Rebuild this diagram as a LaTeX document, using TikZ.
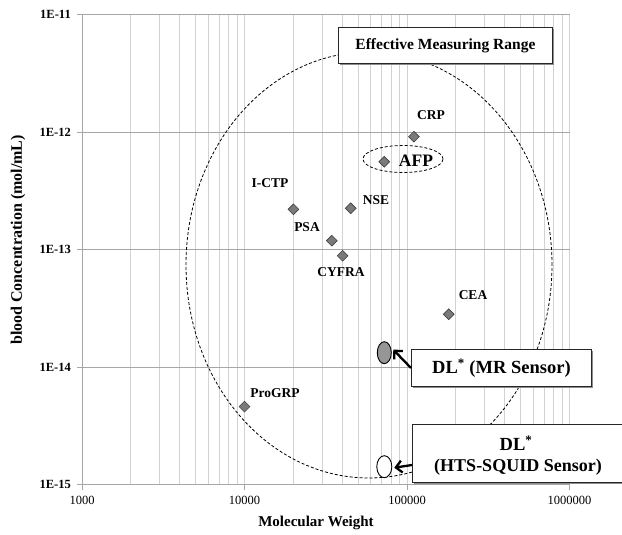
\documentclass[tikz,border=0pt]{standalone}
\usepackage{fontspec}
\setmainfont{Liberation Serif}
\usetikzlibrary{arrows.meta,shapes.geometric,shadows}
\definecolor{majgrid}{HTML}{A6A6A6}
\definecolor{mingrid}{HTML}{D2D2D2}
\definecolor{ptfill}{HTML}{7A7A7A}
\definecolor{ptdraw}{HTML}{404040}
\definecolor{mrfill}{HTML}{969696}
\newcommand{\fsz}[1]{\fontsize{#1}{#1}\selectfont}
\begin{document}
\begin{tikzpicture}[x=1pt,y=-1pt,
  vgrid/.style={mingrid,line width=0.9pt},
  hgrid/.style={majgrid,line width=0.9pt},
  axisline/.style={majgrid,line width=0.9pt},
  pt/.style={diamond,draw=ptdraw,fill=ptfill,line width=0.6pt,minimum width=11pt,minimum height=11pt,inner sep=0pt},
  ylab/.style={font=\fsz{12.5}\bfseries,anchor=east,inner sep=0pt},
  xlab/.style={font=\fsz{12.5},anchor=center,inner sep=0pt},
  dlab/.style={font=\fsz{13.5}\bfseries,inner sep=0pt},
  rangeline/.style={dash pattern=on 3pt off 2pt,line width=0.8pt},
  callout/.style={draw=black!85,fill=white,line width=0.9pt,inner sep=0pt,
    drop shadow={shadow xshift=1.2pt,shadow yshift=-1.2pt,fill=black!45,opacity=1}},
  bigarrow/.style={line width=2.3pt,-{Straight Barb[length=6pt,width=12pt]}}
]
\useasboundingbox (0,0) rectangle (622,535);
\begin{scope}[shift={(82,484.5)},x=162.5pt,y=117.5pt]
  \foreach \d in {0,1,2}{
    \foreach \k in {2,...,9}{
      \draw[vgrid] ({\d+log10(\k)},0) -- ({\d+log10(\k)},4);
    }
  }
  \foreach \d in {1,2,3} \draw[vgrid] (\d,0) -- (\d,4);
  \foreach \e in {1,2,3,4} \draw[hgrid] (0,\e) -- (3,\e);
  \draw[axisline] (0,4) -- (0,0) -- (3,0);
  \foreach \e in {0,1,2,3,4} \draw[axisline] (0,\e) -- ++(-5pt,0);
  \foreach \d in {0,1,2,3} \draw[axisline] (\d,0) -- ++(0,-5pt);
  \node[ylab] (t15) at ([xshift=-11pt]0,0) {1E-15};
  \node[ylab] (t14) at ([xshift=-11pt]0,1) {1E-14};
  \node[ylab] (t13) at ([xshift=-11pt]0,2) {1E-13};
  \node[ylab] (t12) at ([xshift=-11pt]0,3) {1E-12};
  \node[ylab] (t11) at ([xshift=-11pt]0,4) {1E-11};
  \node[xlab] (x3) at ([yshift=-16pt]0,0) {1000};
  \node[xlab] (x4) at ([yshift=-16pt]1,0) {10000};
  \node[xlab] (x5) at ([yshift=-16pt]2,0) {100000};
  \node[xlab] (x6) at ([yshift=-16pt]3,0) {1000000};
\end{scope}
% big dashed range ellipse and AFP ellipse
\draw[rangeline] (369,265) ellipse [x radius=183pt,y radius=213pt];
\node[draw,ellipse,rangeline,minimum width=80pt,minimum height=27pt,inner sep=0pt] (afpring) at (403,159) {};
% data points
\begin{scope}[shift={(82,484.5)},x=162.5pt,y=117.5pt]
  \node[pt] (pProGRP) at (1,0.663) {};
  \node[pt] (pICTP) at (1.301,2.342) {};
  \node[pt] (pPSA) at (1.537,2.075) {};
  \node[pt] (pCYFRA) at (1.604,1.947) {};
  \node[pt] (pNSE) at (1.654,2.351) {};
  \node[pt] (pAFP) at (1.860,2.747) {};
  \node[pt] (pCRP) at (2.043,2.960) {};
  \node[pt] (pCEA) at (2.257,1.449) {};
\end{scope}
% data labels
\node[dlab] (lProGRP) at (275,393) {ProGRP};
\node[dlab] (lICTP) at (270,183) {I-CTP};
\node[dlab] (lPSA) at (307,227) {PSA};
\node[dlab] (lCYFRA) at (341,272) {CYFRA};
\node[dlab] (lNSE) at (376,200) {NSE};
\node[dlab] (lCRP) at (431,115) {CRP};
\node[dlab] (lCEA) at (473,295) {CEA};
\node[font=\fsz{17.5}\bfseries,inner sep=0pt] (lAFP) at (416,161) {AFP};
% detection limit markers
\node[ellipse,draw=black,fill=mrfill,line width=0.9pt,minimum width=14pt,minimum height=22pt,inner sep=0pt] (mr) at (384.3,352.7) {};
\node[ellipse,draw=black,fill=white,line width=0.9pt,minimum width=15pt,minimum height=22pt,inner sep=0pt] (hts) at (384.3,466.7) {};
% callout boxes
\node[callout,anchor=north west,minimum width=214pt,minimum height=36pt,font=\fsz{15.5}\bfseries] (emr) at (338,27) {Effective Measuring Range};
\node[callout,anchor=north west,minimum width=180pt,minimum height=37pt,font=\fsz{18.5}\bfseries] (mrbox) at (411,349) {DL\textsuperscript{*} (MR Sensor)};
\node[callout,anchor=north west,minimum width=220pt,minimum height=58pt] (htsbox) at (412,424) {};
\node[font=\fsz{18.5}\bfseries,inner sep=0pt] (htsl1) at (516,443) {DL\textsuperscript{*}};
\node[font=\fsz{18}\bfseries,inner sep=0pt] (htsl2) at (518,467) {(HTS-SQUID Sensor)};
% arrows
\coordinate (mrfrom) at (mrbox.west |- 0,368);
\coordinate (htsfrom) at (htsbox.west |- 0,465);
\draw[bigarrow] (mrfrom) -- ([shift={(2pt,-1pt)}]mr.30);
\draw[bigarrow] (htsfrom) -- ([shift={(2pt,-1pt)}]hts.east);
% axis titles
\node[font=\fsz{15}\bfseries,inner sep=0pt] (xtitle) at (316,523) {Molecular Weight};
\node[font=\fsz{16}\bfseries,inner sep=0pt,rotate=90] (ytitle) at (18,240) {blood Concentration (mol/mL)};
\end{tikzpicture}
\end{document}
